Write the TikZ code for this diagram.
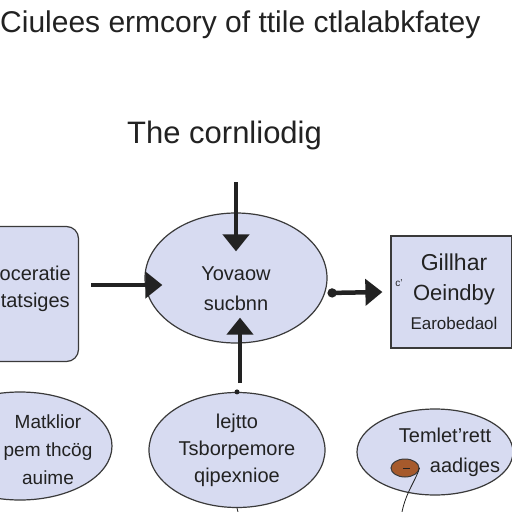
\documentclass[tikz,border=0pt]{standalone}
\usepackage{fontspec}
\setmainfont{Liberation Sans}
\usetikzlibrary{arrows.meta,positioning,shapes.geometric}
\definecolor{flav}{HTML}{D7DBF1}
\definecolor{fedge}{HTML}{3A3A3A}
\definecolor{fink}{HTML}{222222}
\definecolor{fbrown}{HTML}{A65A2C}

\begin{document}
\begin{tikzpicture}[x=1pt, y=-1pt,
  bubble/.style={ellipse, draw=fedge, line width=1.2pt, fill=flav, inner sep=0pt},
  panel/.style={rectangle, draw=fedge, line width=1.2pt, fill=flav, inner sep=0pt},
  flow/.style={line width=4.5pt, fink, -{Triangle[length=17pt,width=26pt]}},
  lbl/.style={text=fink, align=center, inner sep=0pt}]
\useasboundingbox (0,0) rectangle (512,512);
\fill[white] (0,0) rectangle (512,512);
% ---------- titles ----------
\node[lbl, anchor=base west, font=\fontsize{30}{30}\selectfont] (title) at (0,32)
   {Ciulees ermcory of ttile ctlalabkfatey};
\node[lbl, anchor=base west, font=\fontsize{31}{31}\selectfont] (sub) at (127,143)
   {The cornliodig};
% ---------- middle row ----------
\node[panel, rounded corners=12pt, minimum width=95pt, minimum height=135pt] (lbox) at (31,294) {};
\node[lbl, anchor=east, font=\fontsize{20}{27}\selectfont] (ltxt) at (71,289) {oceratie\\tatsiges};
\node[bubble, minimum width=182pt, minimum height=130pt] (ctr) at (236,278) {};
\node[lbl, font=\fontsize{20}{30}\selectfont] (ctrtxt) at (236,289) {Yovaow\\sucbnn};
\node[panel, minimum width=121pt, minimum height=112pt] (rbox) at (451.5,292) {};
\node[lbl, font=\fontsize{23}{23}\selectfont] (rt1) at (454,262) {Gillhar};
\node[lbl, font=\fontsize{22}{22}\selectfont, below=33pt of rt1.center, anchor=center] (rt2) {Oeindby};
\node[lbl, font=\fontsize{17}{17}\selectfont, below=28pt of rt2.center, anchor=center] (rt3) {Earobedaol};
\node[lbl, font=\fontsize{10}{10}\selectfont] (rmark) at (399,283) {c’};
% ---------- arrows ----------
\coordinate (topin) at (236,182);
\coordinate (botin) at (240,383);
\draw[flow] (topin) -- ([yshift=-39pt]ctr.north);
\draw[flow] (botin) -- ([xshift=4pt,yshift=26pt]ctr.south);
\draw[flow] ([xshift=12pt,yshift=9pt]lbox.east) -- ([xshift=18pt,yshift=-7pt]ctr.west);
\draw[flow, {Circle[length=9pt]}-{Triangle[length=17pt,width=26pt]}]
   ([yshift=-15pt]ctr.east) -- ([xshift=-8pt]rbox.west);
% ---------- bottom row ----------
\node[bubble, minimum width=184pt, minimum height=108pt] (bl) at (20,446) {};
\node[lbl, font=\fontsize{19}{28}\selectfont] (bltxt) at (48,450) {Matklior\\pem thcög\\auime};
\node[bubble, minimum width=176pt, minimum height=115pt] (bc) at (237,450) {};
\node[lbl, font=\fontsize{20}{27}\selectfont] (bctxt) at (237,450) {lejtto\\Tsborpemore\\qipexnioe};
\fill[fink] (bc.north) circle (2.5);
\draw[fink, line width=0.8pt] (bc.south) -- ++(2,8);
\node[bubble, minimum width=156pt, minimum height=86pt] (br) at (435,452) {};
\node[lbl, font=\fontsize{20}{20}\selectfont] (brt1) at (445,435) {Temlet’rett};
\node[lbl, font=\fontsize{20}{20}\selectfont] (brt2) at (465,467) {aadiges};
\node[ellipse, draw=fedge, line width=1pt, fill=fbrown, minimum width=28pt, minimum height=18pt, inner sep=0pt] (seed) at (405,468) {};
\draw[fink, line width=1pt] ([xshift=-2pt]seed.center) -- ([xshift=5pt]seed.center);
\draw[fink, line width=0.8pt] (seed.east) .. controls (416,480) and (406,492) .. (402,512);
\end{tikzpicture}
\end{document}
